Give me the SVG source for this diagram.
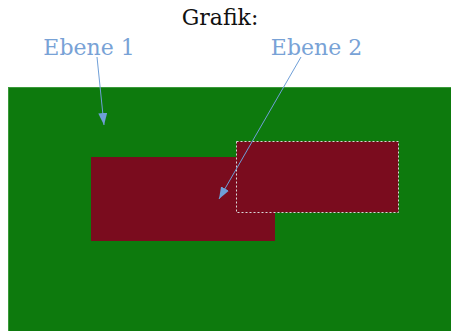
<svg xmlns="http://www.w3.org/2000/svg" width="451" height="331" viewBox="0 0 451 331">
<style>
.lbl{fill:#78a2d6}
.con{stroke:#6f9fd8;stroke-width:1;fill:none}
</style>
<defs>
<marker id="ah" viewBox="0 0 12 9" refX="12" refY="4.5" markerWidth="12" markerHeight="9" markerUnits="userSpaceOnUse" orient="auto">
<path d="M0,0 L12,4.5 L0,9 Z" fill="#6f9fd8"/>
</marker>
</defs>
<rect width="451" height="331" fill="#ffffff"/>
<g id="bg">
<rect x="8.5" y="87.5" width="443" height="244" fill="#0d7a0d" stroke="#3a9a3a" stroke-width="1"/>
</g>
<g id="ebene1">
<rect x="91" y="157" width="184" height="84" fill="#7a0c1e"/>
</g>
<g id="ebene2">
<rect x="236.5" y="141.5" width="162" height="71" fill="#7a0c1e" stroke="#d8d8d8" stroke-width="1" stroke-dasharray="2,2"/>
</g>
<g font-family="'DejaVu Serif', serif" font-size="22">
<g id="title">
<text x="220" y="25" text-anchor="middle" fill="#111">Grafik:</text>
</g>
<g id="label1">
<text class="lbl" x="89" y="55" text-anchor="middle">Ebene 1</text>
</g>
<g id="label2">
<text class="lbl" x="316.5" y="55" text-anchor="middle">Ebene 2</text>
</g>
</g>
<g id="connectors">
<line class="con" x1="97" y1="57" x2="104" y2="125" marker-end="url(#ah)"/>
<line class="con" x1="301" y1="57" x2="219" y2="199" marker-end="url(#ah)"/>
</g>
</svg>
